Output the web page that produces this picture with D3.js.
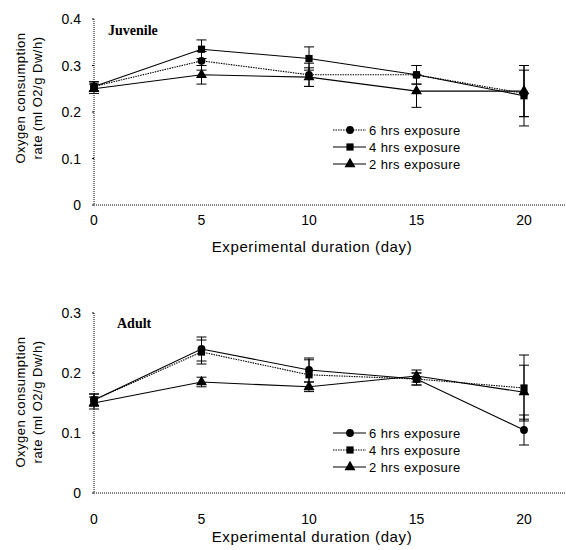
<!DOCTYPE html>
<html>
<head>
<meta charset="utf-8">
<script src="https://cdn.jsdelivr.net/npm/d3@7"></script>
<style>
body{margin:0;background:#fff;}
text{font-family:"Liberation Sans",Arial,sans-serif;fill:#000;}
</style>
</head>
<body>
<div class="chart"></div>
<script>
var width=566,
    height=550;

var days=[0,5,10,15,20];
var xTicks=[0,5,10,15,20];
var seriesNames=['6 hrs exposure','4 hrs exposure','2 hrs exposure'];

// juvenile
var juv6=[0.255,0.31,0.28,0.28,0.24];
var juv4=[0.255,0.335,0.315,0.28,0.235];
var juv2=[0.25,0.28,0.275,0.245,0.245];
var juv6Err=[0.01,0.02,0.025,0.02,0.05];
var juv4Err=[0.01,0.02,0.025,0.02,0.065];
var juv2Err=[0.01,0.02,0.02,0.035,0.055];
var juvTicks=[0,0.1,0.2,0.3,0.4];

// adult
var adult6=[0.155,0.24,0.205,0.19,0.105];
var adult4=[0.155,0.235,0.197,0.19,0.175];
var adult2=[0.15,0.185,0.177,0.195,0.168];
var adult6Err=[0.01,0.02,0.02,0.01,0.025];
var adult4Err=[0.01,0.02,0.025,0.01,0.055];
var adult2Err=[0.01,0.008,0.008,0.01,0.045];
var adultTicks=[0,0.1,0.2,0.3];

var svg=d3.select('.chart')
    .append('svg')
        .attr('width',width)
        .attr('height',height);

var x=d3.scaleLinear().domain([0,22]).range([94,567]);

var markerPath={
    circle:d3.symbol().type(d3.symbolCircle).size(48)(),
    square:d3.symbol().type(d3.symbolSquare).size(52)(),
    triangle:d3.symbol().type(d3.symbolTriangle).size(52)()
};

function drawPanel(opt){
    var y=d3.scaleLinear().domain([0,opt.ymax]).range([opt.bottom,opt.top]);
    var g=svg.append('g');

    // dotted axes
    g.append('line')
        .attr('x1',x(0)).attr('x2',x(0))
        .attr('y1',y(opt.ymax)).attr('y2',y(0))
        .attr('stroke','#000').attr('stroke-width',1)
        .attr('stroke-dasharray','1,1');
    g.append('line')
        .attr('x1',x(0)).attr('x2',x(22))
        .attr('y1',y(0)).attr('y2',y(0))
        .attr('stroke','#000').attr('stroke-width',1)
        .attr('stroke-dasharray','1,1');

    // y ticks
    g.selectAll('.ytick')
        .data(opt.yTicks)
        .enter()
        .append('text')
        .attr('x',x(0)-13)
        .attr('y',d=>y(d)+5)
        .attr('text-anchor','end')
        .attr('font-size','14px')
        .text(d=>d===0?'0':d3.format('.1f')(d));
    g.selectAll('.ytm')
        .data(opt.yTicks)
        .enter()
        .append('line')
        .attr('x1',x(0)-2).attr('x2',x(0))
        .attr('y1',d=>y(d)).attr('y2',d=>y(d))
        .attr('stroke','#000');

    // x ticks
    g.selectAll('.xtick')
        .data(xTicks)
        .enter()
        .append('text')
        .attr('x',d=>x(d))
        .attr('y',y(0)+opt.xTickOff)
        .attr('text-anchor','middle')
        .attr('font-size','14px')
        .text(d=>d);

    g.append('text')
        .attr('x',312)
        .attr('y',y(0)+opt.xLabelOff)
        .attr('text-anchor','middle')
        .attr('font-size','15px')
        .attr('letter-spacing','0.6px')
        .text('Experimental duration (day)');

    // y label
    var yl=g.append('text')
        .attr('transform',`translate(25,${opt.labelY}) rotate(-90)`)
        .attr('text-anchor','middle')
        .attr('font-size','13px')
        .attr('letter-spacing','0.5px');
    yl.append('tspan').attr('x',0).attr('dy',0).text('Oxygen consumption');
    yl.append('tspan').attr('x',0).attr('dy',17).text('rate (ml O2/g Dw/h)');

    // title
    g.append('text')
        .attr('x',opt.titleX)
        .attr('y',opt.titleY)
        .attr('font-weight','bold')
        .attr('font-size','14px')
        .style('font-family','"Liberation Serif",serif')
        .text(opt.title);

    var line=d3.line().x((d,i)=>x(days[i])).y(d=>y(d));

    opt.series.forEach(function(s){
        // error bars
        var eb=g.append('g');
        s.values.forEach(function(v,i){
            var e=s.err[i];
            eb.append('line')
                .attr('x1',x(days[i])).attr('x2',x(days[i]))
                .attr('y1',y(v-e)).attr('y2',y(v+e))
                .attr('stroke','#000');
            [v-e,v+e].forEach(function(c){
                eb.append('line')
                    .attr('x1',x(days[i])-5).attr('x2',x(days[i])+5)
                    .attr('y1',y(c)).attr('y2',y(c))
                    .attr('stroke','#000');
            });
        });
        g.append('path')
            .attr('d',line(s.values))
            .attr('fill','none')
            .attr('stroke','#000')
            .attr('stroke-width',1.1)
            .attr('stroke-dasharray',s.dotted?'1.5,1':null);
        g.selectAll(null)
            .data(s.values)
            .enter()
            .append('path')
            .attr('d',markerPath[s.marker])
            .attr('transform',(d,i)=>`translate(${x(days[i])},${y(d)})`)
            .attr('fill','#000');
    });

    // legend
    var lg=g.append('g');
    opt.series.forEach(function(s,i){
        var ly=opt.legendY+i*17;
        lg.append('line')
            .attr('x1',333).attr('x2',366)
            .attr('y1',ly).attr('y2',ly)
            .attr('stroke','#000')
            .attr('stroke-width',1.1)
            .attr('stroke-dasharray',s.dotted?'1.5,1':null);
        lg.append('path')
            .attr('d',markerPath[s.marker])
            .attr('transform',`translate(350,${ly})`)
            .attr('fill','#000');
        lg.append('text')
            .attr('x',369)
            .attr('y',ly+5)
            .attr('font-size','13px')
            .attr('letter-spacing','0.4px')
            .text(s.name);
    });
}

drawPanel({
    title:'Juvenile',titleX:108,titleY:35,
    top:19,bottom:205,ymax:0.4,yTicks:juvTicks,
    labelY:98,legendY:130,xTickOff:20,xLabelOff:47,
    series:[
        {name:seriesNames[0],values:juv6,err:juv6Err,marker:'circle',dotted:true},
        {name:seriesNames[1],values:juv4,err:juv4Err,marker:'square',dotted:false},
        {name:seriesNames[2],values:juv2,err:juv2Err,marker:'triangle',dotted:false}
    ]
});

drawPanel({
    title:'Adult',titleX:117,titleY:328,
    top:313,bottom:493,ymax:0.3,yTicks:adultTicks,
    labelY:402,legendY:433,xTickOff:31,xLabelOff:49,
    series:[
        {name:seriesNames[0],values:adult6,err:adult6Err,marker:'circle',dotted:false},
        {name:seriesNames[1],values:adult4,err:adult4Err,marker:'square',dotted:true},
        {name:seriesNames[2],values:adult2,err:adult2Err,marker:'triangle',dotted:false}
    ]
});
</script>
</body>
</html>
